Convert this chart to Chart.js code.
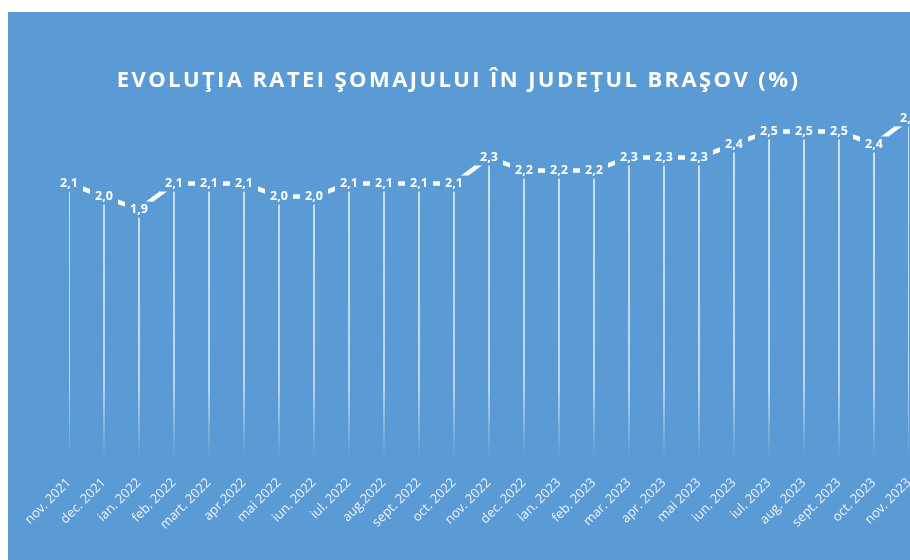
<!DOCTYPE html>
<html>
<head>
<meta charset="utf-8">
<script src="https://cdn.jsdelivr.net/npm/chart.js@4/dist/chart.umd.min.js"></script>
<style>
  html, body { margin: 0; padding: 0; background: #fff; width: 910px; height: 560px; overflow: hidden; }
  #wrap { position: absolute; left: 8px; top: 12px; width: 933px; height: 548px; background: #5b9bd5; }
</style>
</head>
<body>
<div id="wrap"><canvas id="somajChart"></canvas></div>
<script>
const luni = ['nov. 2021', 'dec. 2021', 'ian. 2022', 'feb. 2022', 'mart. 2022', 'apr.2022', 'mai 2022',
    'iun. 2022', 'iul. 2022', 'aug.2022', 'sept. 2022', 'oct. 2022', 'nov. 2022', 'dec. 2022',
    'ian. 2023', 'feb. 2023', 'mar. 2023', 'apr. 2023', 'mai 2023', 'iun. 2023', 'iul. 2023',
    'aug. 2023', 'sept. 2023', 'oct. 2023', 'nov. 2023'];
const rataSomaj = [2.1, 2.0, 1.9, 2.1, 2.1, 2.1, 2.0, 2.0, 2.1, 2.1, 2.1, 2.1, 2.3, 2.2,
    2.2, 2.2, 2.3, 2.3, 2.3, 2.4, 2.5, 2.5, 2.5, 2.4, 2.6];
const titlu = 'EVOLUŢIA RATEI ŞOMAJULUI ÎN JUDEŢUL BRAŞOV (%)';

const fundal = '#5b9bd5';

// etichete cu valori, cu fundal albastru peste linie
const eticheteValori = {
    id: 'eticheteValori',
    afterInit(chart) {
        // spatiere intre litere pentru titlu
        const tb = chart.titleBlock;
        if (tb) {
            const orig = tb.draw.bind(tb);
            tb.draw = function() {
                chart.ctx.save();
                chart.ctx.letterSpacing = '2.4px';
                orig();
                chart.ctx.restore();
            };
        }
    },
    afterDatasetsDraw(chart) {
        const ctx = chart.ctx;
        const meta = chart.getDatasetMeta(1);
        ctx.save();
        ctx.font = 'bold 12.5px "Open Sans"';
        ctx.textAlign = 'center';
        ctx.textBaseline = 'middle';
        meta.data.forEach((pt, i) => {
            ctx.fillStyle = fundal;
            ctx.fillRect(pt.x - 14, pt.y - 8, 28, 16);
            ctx.fillStyle = '#ffffff';
            ctx.fillText(rataSomaj[i].toFixed(1).replace('.', ','), pt.x, pt.y);
        });
        ctx.restore();
    }
};

const ctx = document.getElementById('somajChart');
Chart.defaults.font.family = '"Open Sans"';
Chart.defaults.color = '#fff';

const myChart = new Chart(ctx.getContext('2d'), {
    type: 'line',
    data: {
        labels: luni,
        datasets: [{
            type: 'bar',
            data: rataSomaj,
            barThickness: 1,
            backgroundColor: (c) => {
                const area = c.chart.chartArea;
                if (!area) return 'rgba(255,255,255,0.8)';
                const g = c.chart.ctx.createLinearGradient(0, area.top, 0, area.bottom);
                g.addColorStop(0, 'rgba(255,255,255,0.85)');
                g.addColorStop(0.8, 'rgba(255,255,255,0.7)');
                g.addColorStop(1, 'rgba(255,255,255,0)');
                return g;
            },
            order: 2
        }, {
            data: rataSomaj,
            borderColor: '#ffffff',
            borderWidth: 4.5,
            pointRadius: 0,
            tension: 0,
            order: 1
        }]
    },
    options: {
        responsive: true,
        maintainAspectRatio: false,
        animation: false,
        layout: { padding: { left: 0, right: 32, top: 0, bottom: 0 } },
        plugins: {
            legend: { display: false },
            tooltip: { enabled: false },
            title: {
                display: true,
                text: titlu,
                color: '#ffffff',
                font: { size: 22, weight: 'bold' },
                padding: { top: 56, bottom: 11 }
            }
        },
        scales: {
            x: {
                offset: false,
                grid: { display: false, drawTicks: false },
                border: { display: false },
                ticks: {
                    autoSkip: false,
                    minRotation: 45,
                    maxRotation: 45,
                    padding: 18,
                    color: 'rgba(255,255,255,0.88)',
                    font: { size: 13 }
                },
                afterFit(scale) { scale.height = 103; }
            },
            y: {
                min: 0,
                max: 2.7,
                grid: { display: false, drawTicks: false },
                border: { display: false },
                ticks: { display: false },
                afterFit(scale) { scale.width = 61; }
            }
        }
    },
    plugins: [eticheteValori]
});
</script>
</body>
</html>
